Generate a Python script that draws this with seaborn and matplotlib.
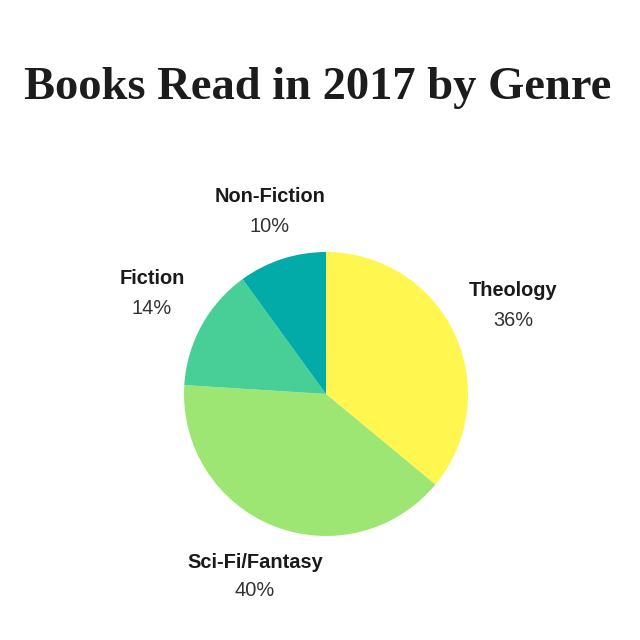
import matplotlib
matplotlib.use("Agg")
import matplotlib.pyplot as plt
import seaborn as sns

# datos
generos = ["Theology", "Sci-Fi/Fantasy", "Fiction", "Non-Fiction"]
porcentajes = [36, 40, 14, 10]
colores = ["#FFF650", "#9EE673", "#48CF98", "#02AAA8"]

sns.set_theme(style="white")
plt.rcParams["font.family"] = ["Liberation Sans", "DejaVu Sans"]

fig = plt.figure(figsize=(6.4, 6.4), dpi=100)
ax = fig.add_axes([0, 0, 1, 1])

ax.pie(porcentajes, colors=colores, startangle=90, counterclock=False,
       center=(326, 246), radius=142, wedgeprops={"linewidth": 0})

# pie cambia los limites, asi que se fijan despues
ax.set_xlim(0, 640)
ax.set_ylim(0, 640)
ax.set_aspect("equal")
ax.axis("off")

# posiciones de las etiquetas (pixeles, y desde abajo)
pos = {
    "Theology": (513, 349),
    "Sci-Fi/Fantasy": (255, 78),
    "Fiction": (152, 361),
    "Non-Fiction": (270, 443),
}
for g, p in zip(generos, porcentajes):
    x, y = pos[g]
    ax.text(x, y, g, ha="center", va="center", fontsize=14.4,
            fontweight="bold", color="#1a1a1a")
    ax.text(x, y - 29, f"{p}%", ha="center", va="center", fontsize=14.4,
            color="#333333")

ax.text(318, 552, "Books Read in 2017 by Genre", ha="center", va="center",
        fontsize=33.5, fontweight="bold", color="#1c1c1c",
        family=["Liberation Serif", "DejaVu Serif"])

fig.savefig("out.png", dpi=100)
